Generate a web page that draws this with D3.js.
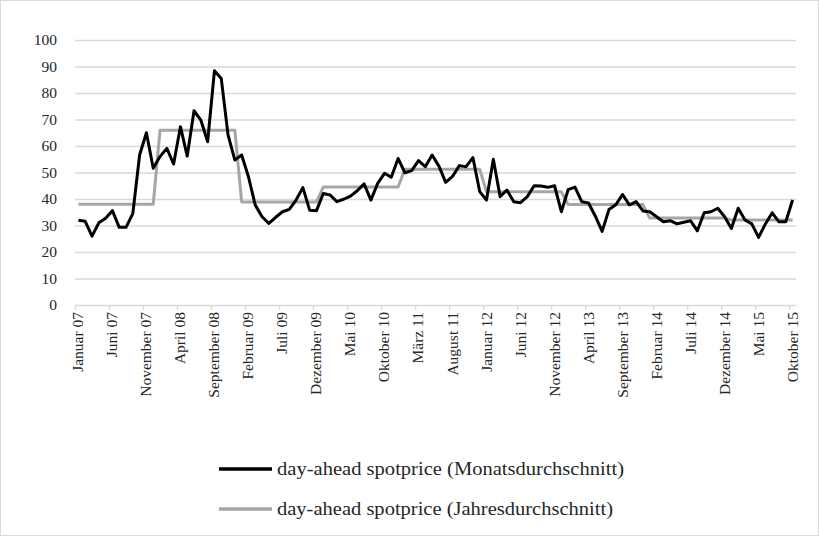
<!DOCTYPE html>
<html>
<head>
<meta charset="utf-8">
<script src="https://cdn.jsdelivr.net/npm/d3@7"></script>
<style>
  html, body { margin: 0; padding: 0; background: #fff; }
  svg { display: block; }
  text { font-family: "Liberation Serif", "Times New Roman", serif; fill: #262626; }
</style>
</head>
<body>
<svg id="chart" width="819" height="536"></svg>
<script>
// Month names and years that build the category labels (Januar 07 … Oktober 15)
const monthNames = ["Januar", "Februar", "März", "April", "Mai", "Juni", "Juli",
  "August", "September", "Oktober", "November", "Dezember"];
const years = ["07", "08", "09", "10", "11", "12", "13", "14", "15"];
const lastMonthCount = 10; // 2015 runs to Oktober

// Monthly average day-ahead spot price (EUR/MWh)
const monthly = [
  32.0, 31.6, 26.0, 31.0, 32.7, 35.6, 29.3, 29.3, 34.5, 56.6, 65.0, 51.6,
  56.0, 59.1, 53.2, 67.3, 56.2, 73.3, 69.8, 61.6, 88.4, 85.5, 64.2, 54.7,
  56.6, 48.4, 37.7, 33.3, 30.8, 33.1, 35.2, 36.1, 39.6, 44.3, 35.8, 35.6,
  42.1, 41.5, 39.0, 39.9, 41.1, 43.1, 45.7, 39.6, 45.9, 49.7, 48.2, 55.3,
  49.9, 50.7, 54.5, 52.2, 56.6, 52.4, 46.3, 48.5, 52.6, 52.2, 55.6, 42.8,
  39.6, 55.0, 40.9, 43.4, 39.0, 38.6, 40.9, 45.0, 44.9, 44.4, 45.0, 35.2,
  43.5, 44.5, 39.0, 38.5, 33.5, 27.8, 36.0, 37.8, 41.7, 37.8, 39.0, 35.5,
  35.2, 33.3, 31.4, 31.8, 30.6, 31.2, 31.8, 28.0, 34.8, 35.2, 36.5, 33.3,
  28.9, 36.5, 32.1, 30.6, 25.5, 30.6, 34.8, 31.4, 31.4, 39.6
];

// Yearly average, one value per year, held for every month of that year
const yearly = [38.0, 65.9, 38.9, 44.5, 51.2, 42.7, 37.9, 32.8, 32.1];

const yTicks = [0, 10, 20, 30, 40, 50, 60, 70, 80, 90, 100];
const labelEvery = 5;

const seriesNames = [
  "day-ahead spotprice (Monatsdurchschnitt)",
  "day-ahead spotprice (Jahresdurchschnitt)"
];

// Category list
const categories = [];
years.forEach((yy, yi) => {
  const n = yi === years.length - 1 ? lastMonthCount : 12;
  for (let m = 0; m < n; m++) categories.push({ label: monthNames[m] + " " + yy, year: yi });
});

const svg = d3.select("#chart");
const W = 819, H = 536;
const plot = { left: 75, right: 796, top: 40, bottom: 305 };

// outer chart frame
svg.append("rect")
  .attr("x", 0.5).attr("y", 0.5)
  .attr("width", W - 1).attr("height", H - 1)
  .attr("fill", "#fff").attr("stroke", "#d9d9d9");

const x = d3.scaleBand()
  .domain(d3.range(categories.length))
  .range([plot.left, plot.right])
  .padding(0);
const xc = i => x(i) + x.bandwidth() / 2;

// boundary scale for tick marks between categories
const xEdge = d3.scaleLinear()
  .domain([0, categories.length])
  .range([plot.left, plot.right]);

const y = d3.scaleLinear().domain([0, 100]).range([plot.bottom, plot.top]);

// horizontal gridlines
svg.append("g")
  .attr("transform", `translate(${plot.left},0)`)
  .call(d3.axisLeft(y).tickValues(yTicks.filter(v => v > 0))
    .tickSize(-(plot.right - plot.left)).tickFormat(""))
  .call(g => g.select(".domain").remove())
  .call(g => g.selectAll("line").attr("stroke", "#d9d9d9").attr("stroke-width", 1.3));

// y labels
svg.append("g")
  .attr("transform", `translate(${plot.left},0)`)
  .call(d3.axisLeft(y).tickValues(yTicks).tickSize(0).tickPadding(18))
  .call(g => g.select(".domain").remove())
  .call(g => g.selectAll("text")
    .attr("font-family", "Liberation Serif, serif")
    .attr("font-size", 15.5).attr("fill", "#262626"));

// x axis line and tick marks every five months
svg.append("g")
  .attr("transform", `translate(0,${plot.bottom})`)
  .call(d3.axisBottom(xEdge)
    .tickValues(d3.range(0, categories.length, labelEvery))
    .tickSize(5).tickSizeOuter(0).tickFormat(""))
  .call(g => g.select(".domain").attr("stroke", "#d9d9d9").attr("stroke-width", 1.3))
  .call(g => g.selectAll("line").attr("stroke", "#d9d9d9").attr("stroke-width", 1.3));

// rotated category labels
svg.append("g")
  .selectAll("text")
  .data(d3.range(0, categories.length, labelEvery))
  .join("text")
  .attr("transform", i => `translate(${xc(i) + 5},${plot.bottom + 7}) rotate(-90)`)
  .attr("text-anchor", "end")
  .attr("font-size", 15.5)
  .text(i => categories[i].label);

// yearly average step series
const line = d3.line().x((d, i) => xc(i)).y(d => y(d));
const yearlySeries = categories.map(c => yearly[c.year]);

svg.append("path")
  .datum(yearlySeries)
  .attr("d", line)
  .attr("fill", "none")
  .attr("stroke", "#a6a6a6")
  .attr("stroke-width", 3)
  .attr("stroke-linejoin", "round");

// monthly average
svg.append("path")
  .datum(monthly)
  .attr("d", line)
  .attr("fill", "none")
  .attr("stroke", "#000")
  .attr("stroke-width", 3)
  .attr("stroke-linejoin", "round");

// legend
const legend = svg.append("g");
const legendRows = [
  { name: seriesNames[0], color: "#000", y: 469, width: 347 },
  { name: seriesNames[1], color: "#a6a6a6", y: 509, width: 336 }
];
legendRows.forEach(r => {
  legend.append("line")
    .attr("x1", 219).attr("x2", 272)
    .attr("y1", r.y).attr("y2", r.y)
    .attr("stroke", r.color).attr("stroke-width", 3.5);
  legend.append("text")
    .attr("x", 277).attr("y", r.y + 6)
    .attr("font-size", 18.5)
    .attr("textLength", r.width)
    .attr("lengthAdjust", "spacingAndGlyphs")
    .text(r.name);
});
</script>
</body>
</html>
